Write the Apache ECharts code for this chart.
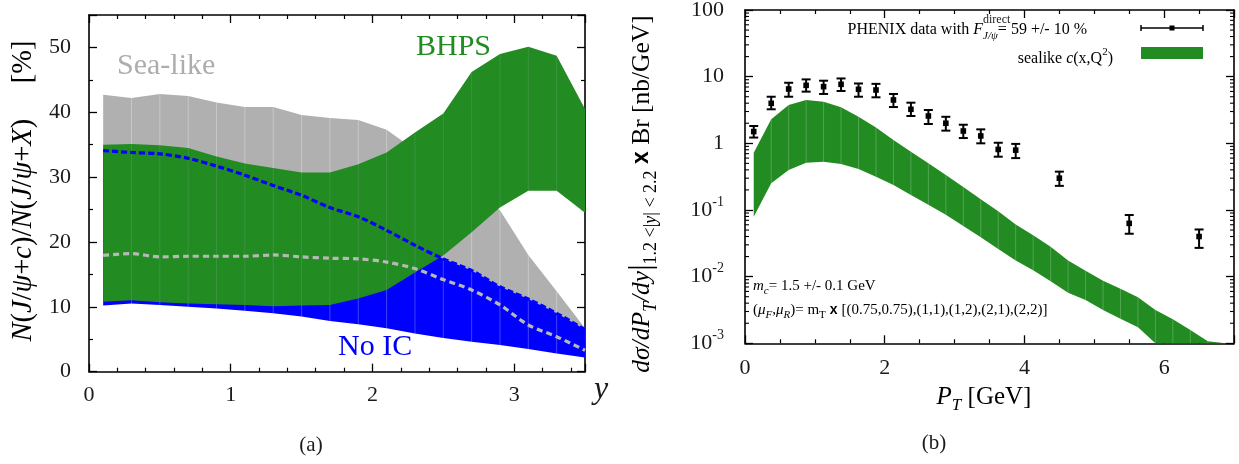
<!DOCTYPE html>
<html><head><meta charset="utf-8">
<script src="https://cdn.jsdelivr.net/npm/echarts@6/dist/echarts.min.js"></script>
<style>html,body{margin:0;padding:0;background:#fff}#c{width:1239px;height:464px}</style>
</head><body><div id="c"></div>
<script>
// ---------- Panel (a): ratio vs rapidity ----------
const rapidity     = [0.1,0.3,0.5,0.7,0.9,1.1,1.3,1.5,1.7,1.9,2.1,2.3,2.5,2.7,2.9,3.1,3.3,3.5];
const seaLikeUpper = [42.7,42.2,42.8,42.5,41.5,40.8,40.8,39.6,39.1,38.8,37.3,34.2,31.1,28.0,24.9,18.0,12.4,6.7];
const seaLikeLower = [17.95,18.2,17.7,17.8,17.8,17.8,18.0,17.7,17.5,17.4,16.9,15.9,14.2,12.6,10.3,7.2,5.4,3.3];
const bhpsUpper    = [35.0,35.1,34.9,34.5,33.2,32.1,31.4,30.7,30.7,32.0,33.8,36.9,39.8,46.2,49.0,50.1,48.7,40.5];
const bhpsLower    = [10.8,11.0,10.7,10.5,10.4,10.3,10.1,10.2,10.3,11.3,12.6,15.3,17.9,21.5,25.3,27.9,27.9,24.5];
const noIcUpper    = [34.1,33.8,33.6,32.9,31.7,30.3,28.7,27.2,25.3,23.9,21.8,19.5,17.4,15.6,13.1,11.2,9.0,6.5];
const noIcLower    = [10.2,10.5,10.3,10.0,9.75,9.4,9.0,8.5,7.8,7.3,6.7,5.9,5.2,4.6,4.1,3.5,2.8,2.2];
const xTicksA = [0,1,2,3];
const yTicksA = [0,10,20,30,40,50];

// ---------- Panel (b): PT spectrum ----------
const ptData      = [0.125,0.375,0.625,0.875,1.125,1.375,1.625,1.875,2.125,2.375,2.625,2.875,3.125,3.375,3.625,3.875,4.5,5.5,6.5];
const phenixYield = [1.50,3.98,6.53,7.41,7.08,7.68,6.46,6.31,4.47,3.24,2.57,2.00,1.53,1.29,0.81,0.79,0.30,0.063,0.040];
const phenixLow   = [1.22,3.24,5.00,5.96,5.50,6.10,5.00,4.90,3.50,2.57,1.95,1.55,1.20,1.00,0.63,0.60,0.23,0.044,0.027];
const phenixHigh  = [1.82,5.00,8.10,9.10,8.70,9.40,7.90,7.80,5.50,4.07,3.16,2.50,1.90,1.62,1.02,0.98,0.376,0.084,0.051];
const bandPt      = [0.125,0.375,0.625,0.875,1.125,1.375,1.625,1.875,2.125,2.375,2.625,2.875,3.125,3.375,3.625,3.875,4.125,4.375,4.625,4.875,5.125,5.375,5.625,5.875,6.125,6.375,6.625,6.875];
const sealikeUpper= [0.724,2.29,3.76,4.47,4.22,3.47,2.51,1.72,1.12,0.750,0.501,0.335,0.221,0.145,0.0955,0.0603,0.0417,0.0282,0.0174,0.0123,0.00871,0.00661,0.00490,0.00316,0.00229,0.00158,0.00107,0.00071];
const sealikeLower= [0.0794,0.251,0.398,0.513,0.531,0.490,0.412,0.316,0.237,0.168,0.120,0.0851,0.0575,0.0390,0.0260,0.0175,0.0125,0.00851,0.00575,0.00447,0.00316,0.00234,0.00174,0.00100,0.00063,0.00040,0.00025,0.00016];
const xTicksB = [0,2,4,6];
const yDecadesB = [-3,-2,-1,0,1,2];

const SERIF = "'Liberation Serif','Times New Roman',serif";
const INK = '#1a1a1a';
const GREEN = '#228b22', GRAY = '#b0b0b0', BLUE = '#0000ff';

const chart = echarts.init(document.getElementById('c'), null, {renderer:'canvas'});

function frameAxis(extra) {
  return Object.assign({
    axisLine:{show:true, onZero:false, lineStyle:{color:'#000', width:1.6}},
    axisTick:{show:true, inside:true, length:8, lineStyle:{color:'#000', width:1.3}},
    minorTick:{show:false},
    splitLine:{show:false},
    axisLabel:{show:false}
  }, extra);
}

function band(xi, yi, xs, lo, hi, color, z, hatch, floor) {
  return {
    type:'custom', xAxisIndex:xi, yAxisIndex:yi, z:z, clip:true, silent:true,
    data: xs.map((x,i)=>[x, lo[i], hi[i]]),
    encode:{x:0, y:[1,2]},
    renderItem:(params, api)=>{
      if (params.dataIndex !== 0) return null;
      const f = v => floor ? Math.max(v, floor) : v;
      const top = xs.map((x,i)=>api.coord([x, f(hi[i])]));
      const bot = xs.map((x,i)=>api.coord([x, f(lo[i])])).reverse();
      const children = [{type:'polygon', shape:{points: top.concat(bot)}, style:{fill:color}}];
      if (hatch) {
        for (let i=1;i<xs.length-1;i++){
          const a = api.coord([xs[i], f(hi[i])]), b = api.coord([xs[i], f(lo[i])]);
          children.push({type:'line', shape:{x1:a[0],y1:a[1],x2:b[0],y2:b[1]}, style:{stroke:hatch, lineWidth:1}});
        }
      }
      return {type:'group', children};
    }
  };
}

const richA = {
  n:{fontFamily:SERIF, fontSize:28.5, lineHeight:36, color:INK},
  it:{fontFamily:SERIF, fontSize:28.5, fontStyle:'italic', lineHeight:36, color:INK}
};

const minorLog = [];
yDecadesB.slice(0,-1).forEach(e=>{ for(let k=2;k<=9;k++) minorLog.push(k*Math.pow(10,e)); });

const option = {
  animation:false,
  backgroundColor:'#fff',
  grid:[
    {left:89, top:15, width:496, height:356.7, outerBoundsMode:'none', containLabel:false},
    {left:745, top:10, width:489, height:333.3, outerBoundsMode:'none', containLabel:false}
  ],
  xAxis:[
    frameAxis({gridIndex:0, type:'value', min:0, max:3.5, interval:1, position:'bottom',
      minorTick:{show:true, splitNumber:5, length:4, lineStyle:{color:'#000', width:1.2}},
      axisLabel:{show:true, margin:13, fontFamily:SERIF, fontSize:22, color:INK, showMaxLabel:false,
        formatter:v=>xTicksA.includes(v)?String(v):''}}),
    frameAxis({gridIndex:0, type:'value', min:0, max:3.5, interval:1, position:'top',
      minorTick:{show:true, splitNumber:5, length:4, lineStyle:{color:'#000', width:1.2}}}),
    frameAxis({gridIndex:1, type:'value', min:0, max:7, interval:2, position:'bottom',
      minorTick:{show:true, splitNumber:4, length:4, lineStyle:{color:'#000', width:1.2}},
      axisLabel:{show:true, margin:14, fontFamily:SERIF, fontSize:22, color:INK, showMaxLabel:false,
        formatter:v=>xTicksB.includes(v)?String(v):''}}),
    frameAxis({gridIndex:1, type:'value', min:0, max:7, interval:2, position:'top',
      minorTick:{show:true, splitNumber:4, length:4, lineStyle:{color:'#000', width:1.2}}})
  ],
  yAxis:[
    frameAxis({gridIndex:0, type:'value', min:0, max:55, interval:10, position:'left',
      minorTick:{show:true, splitNumber:2, length:4, lineStyle:{color:'#000', width:1.2}},
      axisLabel:{show:true, margin:18, fontFamily:SERIF, fontSize:22, color:INK, showMaxLabel:false,
        formatter:v=>yTicksA.includes(v)?String(v):''}}),
    frameAxis({gridIndex:0, type:'value', min:0, max:55, interval:10, position:'right',
      minorTick:{show:true, splitNumber:2, length:4, lineStyle:{color:'#000', width:1.2}}}),
    frameAxis({gridIndex:1, type:'log', logBase:10, min:0.001, max:100, position:'left',
      axisLabel:{show:true, margin:21, color:INK,
        formatter:v=>{ const e=Math.round(Math.log10(v)); if(!yDecadesB.includes(e)) return ''; return e>=0?'{b|'+Math.pow(10,e)+'}':'{b|10}{s|'+e+'}'; },
        rich:{b:{fontFamily:SERIF, fontSize:22, lineHeight:30, color:INK}, s:{fontFamily:SERIF, fontSize:14, lineHeight:14, verticalAlign:'top', color:INK}}}}),
    frameAxis({gridIndex:1, type:'log', logBase:10, min:0.001, max:100, position:'right'})
  ],
  series:[
    band(0,0, rapidity, seaLikeLower, seaLikeUpper, GRAY, 1, 'rgba(255,255,255,0.3)'),
    band(0,0, rapidity, noIcLower, noIcUpper, BLUE, 2, 'rgba(255,255,255,0.25)'),
    band(0,0, rapidity, bhpsLower, bhpsUpper, GREEN, 3, 'rgba(170,190,210,0.18)'),
    {type:'line', xAxisIndex:0, yAxisIndex:0, z:4, symbol:'none', smooth:0.3, silent:true,
      data: rapidity.map((x,i)=>[x, seaLikeLower[i]]),
      lineStyle:{color:'#b8b8b8', width:3.2, type:[6,4]}},
    {type:'line', xAxisIndex:0, yAxisIndex:0, z:5, symbol:'none', smooth:0.3, silent:true,
      data: rapidity.map((x,i)=>[x, noIcUpper[i]]),
      lineStyle:{color:BLUE, width:3.2, type:[6,3]}},
    band(2,2, bandPt, sealikeLower, sealikeUpper, GREEN, 3, 'rgba(255,255,255,0.22)', 0.001),
    {type:'custom', xAxisIndex:2, yAxisIndex:2, z:10, silent:true,
      data: ptData.map((x,i)=>[x, phenixYield[i], phenixLow[i], phenixHigh[i]]),
      encode:{x:0, y:1},
      renderItem:(params, api)=>{
        const x = api.value(0);
        const c = api.coord([x, api.value(1)]);
        const lo = api.coord([x, api.value(2)]);
        const hi = api.coord([x, api.value(3)]);
        const w = 4.5, s = 2.8, st = {stroke:'#000', lineWidth:2};
        return {type:'group', children:[
          {type:'line', shape:{x1:c[0],y1:lo[1],x2:c[0],y2:hi[1]}, style:st},
          {type:'line', shape:{x1:c[0]-w,y1:lo[1],x2:c[0]+w,y2:lo[1]}, style:st},
          {type:'line', shape:{x1:c[0]-w,y1:hi[1],x2:c[0]+w,y2:hi[1]}, style:st},
          {type:'rect', shape:{x:c[0]-s,y:c[1]-s,width:2*s,height:2*s}, style:{fill:'#000'}}
        ]};
      }},
    {type:'custom', xAxisIndex:2, yAxisIndex:2, z:11, silent:true,
      data: minorLog.map(v=>[0, v]),
      encode:{x:0, y:1},
      renderItem:(params, api)=>{
        const p = api.coord([0, api.value(1)]);
        const cs = params.coordSys;
        const st = {stroke:'#000', lineWidth:1.1};
        return {type:'group', children:[
          {type:'line', shape:{x1:cs.x, y1:p[1], x2:cs.x+4, y2:p[1]}, style:st},
          {type:'line', shape:{x1:cs.x+cs.width-4, y1:p[1], x2:cs.x+cs.width, y2:p[1]}, style:st}
        ]};
      }}
  ],
  graphic:[
    // panel (a) texts
    {type:'text', x:24, y:191, rotation:Math.PI/2, style:{
      text:'{it|N}{n|(}{it|J}{n|/}{it|ψ}{n|+}{it|c}{n|)/}{it|N}{n|(}{it|J}{n|/}{it|ψ}{n|+}{it|X}{n|)     [%]}',
      rich:richA, align:'center', verticalAlign:'middle'}},
    {type:'text', x:601, y:390, style:{text:'y', fontFamily:SERIF, fontStyle:'italic', fontSize:32, fill:INK, align:'center', verticalAlign:'middle'}},
    {type:'text', x:117, y:66, style:{text:'Sea-like', fontFamily:SERIF, fontSize:30, fill:'#adadad', align:'left', verticalAlign:'middle'}},
    {type:'text', x:416, y:47, style:{text:'BHPS', fontFamily:SERIF, fontSize:30, fill:GREEN, align:'left', verticalAlign:'middle'}},
    {type:'text', x:338, y:347, style:{text:'No IC', fontFamily:SERIF, fontSize:30, fill:BLUE, align:'left', verticalAlign:'middle'}},
    {type:'text', x:311, y:445, style:{text:'(a)', fontFamily:SERIF, fontSize:21, fill:INK, align:'center', verticalAlign:'middle'}},
    // panel (b) texts
    {type:'text', x:642, y:194, rotation:Math.PI/2, style:{
      text:'{it|dσ/dP}{sub|T}{it|/dy}{bar||}{subn|1.2 <|}{sub|y}{subn|| < 2.2}{x| x }{n|Br [nb/GeV]}',
      rich:{
        n:{fontFamily:SERIF, fontSize:25.5, lineHeight:36, color:INK},
        it:{fontFamily:SERIF, fontSize:25.5, fontStyle:'italic', lineHeight:36, color:INK},
        bar:{fontFamily:SERIF, fontSize:32, lineHeight:36, color:INK},
        sub:{fontFamily:SERIF, fontSize:18, fontStyle:'italic', lineHeight:19, verticalAlign:'bottom', color:INK},
        subn:{fontFamily:SERIF, fontSize:18, lineHeight:19, verticalAlign:'bottom', color:INK},
        x:{fontFamily:"'Liberation Sans',sans-serif", fontWeight:'bold', fontSize:23, lineHeight:36, color:INK}
      }, align:'center', verticalAlign:'middle'}},
    {type:'text', x:984, y:397, style:{
      text:'{it|P}{sub|T}{n| [GeV]}',
      rich:{
        n:{fontFamily:SERIF, fontSize:25, lineHeight:34, color:INK},
        it:{fontFamily:SERIF, fontSize:25, fontStyle:'italic', lineHeight:34, color:INK},
        sub:{fontFamily:SERIF, fontSize:17, fontStyle:'italic', lineHeight:20, verticalAlign:'bottom', color:INK}
      }, align:'center', verticalAlign:'middle'}},
    {type:'text', x:934, y:443, style:{text:'(b)', fontFamily:SERIF, fontSize:21, fill:INK, align:'center', verticalAlign:'middle'}},
    // legend
    {type:'text', x:1087, y:30, style:{
      text:'{n|PHENIX data with }{it|F}{sub|J/ψ}{n|= 59 +/- 10 %}',
      rich:{
        n:{fontFamily:SERIF, fontSize:16, lineHeight:24, color:INK},
        it:{fontFamily:SERIF, fontSize:16, fontStyle:'italic', lineHeight:24, color:INK},
        sub:{fontFamily:SERIF, fontSize:11, fontStyle:'italic', lineHeight:12, verticalAlign:'bottom', color:INK}
      }, align:'right', verticalAlign:'middle'}},
    {type:'text', x:983, y:20, style:{text:'direct', fontFamily:SERIF, fontSize:12, fill:INK, align:'left', verticalAlign:'middle'}},
    {type:'line', shape:{x1:1141, y1:28, x2:1203, y2:28}, style:{stroke:'#000', lineWidth:1.5}},
    {type:'line', shape:{x1:1141, y1:25, x2:1141, y2:31}, style:{stroke:'#000', lineWidth:1.5}},
    {type:'line', shape:{x1:1203, y1:25, x2:1203, y2:31}, style:{stroke:'#000', lineWidth:1.5}},
    {type:'rect', shape:{x:1169.5, y:25.5, width:5, height:5}, style:{fill:'#000'}},
    {type:'text', x:1113, y:59, style:{
      text:'{n|sealike }{it|c}{n|(x,Q}{sup|2}{n|)}',
      rich:{
        n:{fontFamily:SERIF, fontSize:16, lineHeight:24, color:INK},
        it:{fontFamily:SERIF, fontSize:16, fontStyle:'italic', lineHeight:24, color:INK},
        sup:{fontFamily:SERIF, fontSize:11, lineHeight:12, verticalAlign:'top', color:INK}
      }, align:'right', verticalAlign:'middle'}},
    {type:'rect', shape:{x:1141, y:47, width:62, height:12}, style:{fill:GREEN}},
    // annotations
    {type:'text', x:753, y:286, style:{
      text:'{it|m}{sub|c}{n|= 1.5 +/- 0.1 GeV}',
      rich:{
        n:{fontFamily:SERIF, fontSize:15, lineHeight:22, color:INK},
        it:{fontFamily:SERIF, fontSize:15, fontStyle:'italic', lineHeight:22, color:INK},
        sub:{fontFamily:SERIF, fontSize:11, fontStyle:'italic', lineHeight:12, verticalAlign:'bottom', color:INK}
      }, align:'left', verticalAlign:'middle'}},
    {type:'text', x:753, y:310, style:{
      text:'{n|(}{it|μ}{sub|F}{n|,}{it|μ}{sub|R}{n|)= m}{subn|T}{x| x }{n|[(0.75,0.75),(1,1),(1,2),(2,1),(2,2)]}',
      rich:{
        n:{fontFamily:SERIF, fontSize:15, lineHeight:22, color:INK},
        it:{fontFamily:SERIF, fontSize:15, fontStyle:'italic', lineHeight:22, color:INK},
        sub:{fontFamily:SERIF, fontSize:11, fontStyle:'italic', lineHeight:12, verticalAlign:'bottom', color:INK},
        subn:{fontFamily:SERIF, fontSize:11, lineHeight:12, verticalAlign:'bottom', color:INK},
        x:{fontFamily:"'Liberation Sans',sans-serif", fontWeight:'bold', fontSize:14, lineHeight:22, color:INK}
      }, align:'left', verticalAlign:'middle'}}
  ]
};
chart.setOption(option);
</script>
</body></html>
